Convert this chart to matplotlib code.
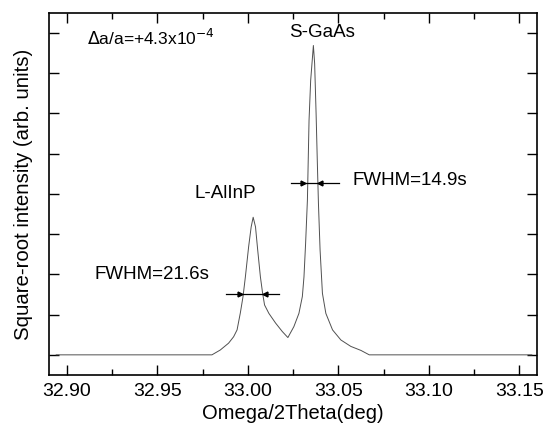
import matplotlib
matplotlib.use("Agg")
import matplotlib.pyplot as plt
from matplotlib.ticker import MultipleLocator, NullFormatter

plt.rcParams["font.family"] = ["Liberation Sans", "DejaVu Sans"]

# rocking curve (deg, sqrt intensity, arb.)
omega = [
    32.894, 32.9801, 32.9847, 32.9893, 32.9921, 32.9940, 32.9958, 32.9973,
    32.9986, 33.0004, 33.0018, 33.0029, 33.0042, 33.0054, 33.0069, 33.0081,
    33.0092, 33.0116, 33.0153, 33.0190, 33.0221, 33.0254, 33.0282, 33.0301,
    33.0310, 33.0319, 33.0329, 33.0338, 33.0347, 33.0362, 33.0369, 33.0377,
    33.0384, 33.0390, 33.0399, 33.0412, 33.0431, 33.0468, 33.0514, 33.0569,
    33.0625, 33.0671, 33.157,
]
intensity = [
    0.0, 0.0, 0.12, 0.29, 0.45, 0.62, 1.04, 1.45,
    1.94, 2.69, 3.18, 3.42, 3.18, 2.61, 1.94, 1.54,
    1.24, 1.03, 0.79, 0.58, 0.43, 0.70, 1.03, 1.45,
    1.94, 2.77, 3.85, 5.83, 6.82, 7.69, 7.24, 6.00,
    4.76, 3.76, 2.61, 1.53, 1.03, 0.62, 0.37, 0.21,
    0.11, 0.0, 0.0,
]

# FWHM markers: (line start, line end, right-pointing head, left-pointing head, level)
fwhm_alinp = (32.9881, 33.0171, 32.9958, 33.0097, 1.51)
fwhm_gaas = (33.0236, 33.0501, 33.0306, 33.0400, 4.27)

fig = plt.figure(figsize=(5.48, 4.30), dpi=100)
ax = fig.add_axes([0.0894, 0.128, 0.891, 0.842])

ax.plot(omega, intensity, color="#505050", linewidth=0.7)

for x0, x1, xr, xl, y in (fwhm_alinp, fwhm_gaas):
    ax.plot([x0, x1], [y, y], color="black", linewidth=0.9)
    ax.plot([xr], [y], marker=">", color="black", markersize=3.5)
    ax.plot([xl], [y], marker="<", color="black", markersize=3.5)

ax.text(32.9108, 7.87, r"$\Delta$a/a=+4.3x10$^{-4}$", fontsize=12.5, ha="left", va="center")
ax.text(33.0411, 8.01, "S-GaAs", fontsize=13.5, ha="center", va="center")
ax.text(32.9875, 4.02, "L-AlInP", fontsize=13.5, ha="center", va="center")
ax.text(33.0581, 4.34, "FWHM=14.9s", fontsize=13.5, ha="left", va="center")
ax.text(32.9153, 1.99, "FWHM=21.6s", fontsize=13.5, ha="left", va="center")

ax.set_xlim(32.89, 33.16)
ax.set_ylim(-0.5, 8.5)
ax.xaxis.set_major_locator(MultipleLocator(0.05))
ax.xaxis.set_minor_locator(MultipleLocator(0.025))
ax.yaxis.set_major_locator(MultipleLocator(1))
ax.yaxis.set_major_formatter(NullFormatter())
ax.xaxis.set_major_formatter(plt.FuncFormatter(lambda v, p: f"{v:.2f}"))
ax.tick_params(which="both", direction="in", top=True, right=True, labelsize=14, width=1.0)
ax.tick_params(axis="x", pad=6)
ax.tick_params(which="major", length=7)
ax.tick_params(which="minor", length=4)
for spine in ax.spines.values():
    spine.set_linewidth(1.2)

ax.set_xlabel("Omega/2Theta(deg)", fontsize=14.5, labelpad=3)
ax.set_ylabel("Square-root intensity (arb. units)", fontsize=14.7, labelpad=8)

fig.savefig("out.png", dpi=100)
